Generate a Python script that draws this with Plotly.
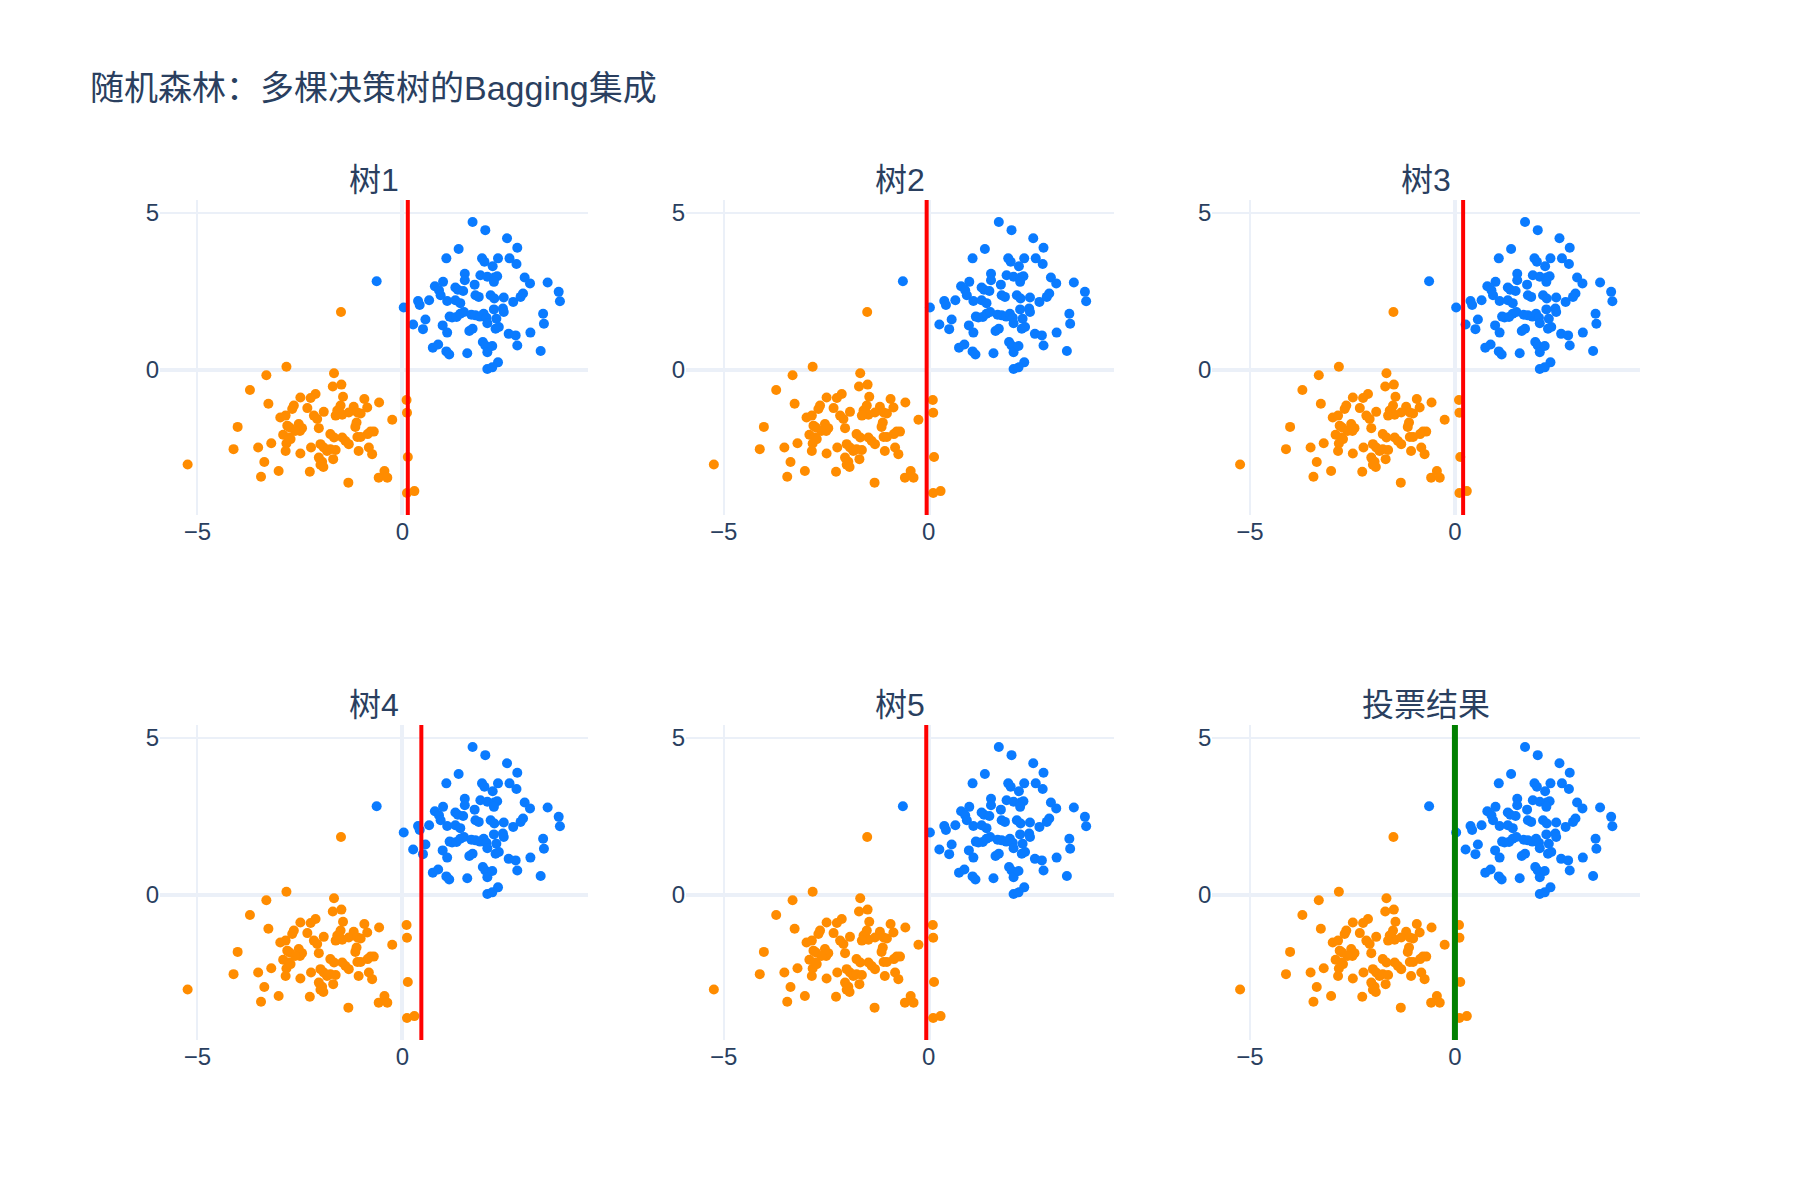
import plotly.graph_objects as go
from plotly.subplots import make_subplots

# ---- data ----
orange_x = [-2.83, -3.32, -3.72, -3.27, -4.02, -4.12, -5.24, -3.52, -3.37, -3.45,
            -3.02, -3.20, -2.98, -2.85, -2.69, -2.65, -2.49, -2.81, -2.75, -2.91,
            -2.77, -2.83, -2.85, -2.53, -2.50, -2.49, -1.50, -1.67, -1.70, -1.49,
            -1.45, -0.93, -0.57, -0.86, -1.19, -1.51, -1.59, -1.47, -1.63, -1.31,
            -1.10, -1.02, -0.25, -1.12, -1.15, -0.78, -0.70, -0.85, -1.10, -1.02,
            -1.47, -1.39, -1.31, -1.76, -1.67, -2.04, -2.08, -1.92, -2.16, -2.32,
            -2.12, -2.24, -2.45, -2.62, -2.73, -2.23, -2.00, -1.92, -1.84, -1.76,
            -1.63, -2.04, -1.96, -2.00, -1.93, -1.69, -2.26, -1.07, -0.82, -0.74,
            -1.32, -0.58, -0.44, -0.37, 0.10, 0.11, 0.13, 0.11, 0.29]
orange_y = [0.09, -0.18, -0.65, -1.09, -1.83, -2.54, -3.03, -2.49, -2.95, -3.42,
            -3.24, -2.35, -1.53, -1.47, -1.26, -1.15, -0.89, -1.79, -1.85, -2.08,
            -2.17, -2.36, -2.60, -1.74, -1.96, -2.68, 1.84, -0.12, -0.54, -0.48,
            -0.87, -0.94, -1.05, -1.21, -1.19, -1.15, -1.31, -1.44, -1.47, -1.37,
            -1.37, -1.40, -1.60, -1.69, -1.83, -1.98, -1.98, -2.06, -2.15, -2.15,
            -2.17, -2.28, -2.38, -2.06, -2.17, -1.87, -1.58, -1.35, -1.47, -1.23,
            -0.78, -0.91, -1.87, -1.96, -2.22, -2.49, -2.38, -2.49, -2.60, -2.54,
            -2.57, -2.81, -2.94, -3.04, -3.11, -2.86, -3.26, -2.60, -2.49, -2.70,
            -3.61, -3.45, -3.24, -3.45, -0.97, -1.38, -2.79, -3.94, -3.88]

blue_x = [-0.63, 0.03, 0.26, 0.50, 0.56, 0.38, 0.42, 0.65, 0.79, 0.89,
          0.93, 0.99, 1.07, 1.37, 1.71, 2.02, 0.74, 0.87, 1.07, 1.14,
          1.58, 0.98, 1.09, 1.15, 1.21, 1.32, 1.41, 1.50, 1.09, 1.29,
          1.41, 1.29, 1.35, 1.48, 1.52, 1.52, 1.76, 1.78, 1.86, 1.90,
          2.07, 1.94, 2.00, 1.68, 1.78, 1.89, 1.63, 1.71, 1.96, 2.02,
          2.07, 2.07, 2.55, 2.80, 2.20, 2.33, 2.61, 2.78, 2.24, 2.31,
          2.23, 2.98, 3.11, 3.54, 3.81, 3.84, 2.15, 2.24, 2.47, 2.70,
          2.88, 2.94, 2.23, 2.45, 2.47, 1.98, 2.05, 2.29, 2.07, 3.43,
          3.45, 2.27, 2.35, 2.59, 2.76, 3.12, 2.80, 2.19, 2.33, 2.19,
          3.37]
blue_y = [2.82, 1.98, 1.44, 1.29, 1.60, 2.19, 2.06, 2.21, 2.66, 2.53,
          2.37, 2.80, 3.55, 3.85, 4.71, 4.45, 0.70, 0.80, 0.58, 0.48,
          0.52, 1.41, 1.18, 1.69, 1.66, 1.68, 1.78, 1.84, 2.19, 2.21,
          2.12, 2.62, 2.55, 2.51, 3.06, 2.85, 2.71, 2.37, 2.32, 3.01,
          2.96, 3.55, 3.44, 1.75, 1.73, 1.69, 1.23, 1.30, 0.88, 0.77,
          0.55, 0.02, 4.19, 3.89, 3.30, 3.55, 3.55, 3.37, 2.94, 2.98,
          2.80, 2.94, 2.75, 2.78, 2.48, 2.18, 2.37, 2.27, 2.30, 2.16,
          2.32, 2.43, 1.92, 1.95, 1.84, 1.78, 1.65, 1.62, 1.48, 1.78,
          1.46, 1.30, 1.36, 1.14, 1.09, 1.18, 0.77, 0.75, 0.23, 0.07,
          0.59]

panel_titles = ["树1", "树2", "树3", "树4", "树5", "投票结果"]
split_x = [0.13, -0.05, 0.20, 0.46, -0.06, 0.0]
split_colors = ["red", "red", "red", "red", "red", "green"]
split_widths = [4, 4, 4, 4, 4, 6]

FONT = "Arial, Liberation Sans, Noto Sans CJK SC, sans-serif"

fig = make_subplots(rows=2, cols=3, subplot_titles=panel_titles,
                    vertical_spacing=0.25)

for i in range(6):
    r, c = i // 3 + 1, i % 3 + 1
    fig.add_trace(go.Scatter(x=orange_x, y=orange_y, mode="markers",
                             marker=dict(color="#FF8C00", size=10),
                             showlegend=False), row=r, col=c)
    fig.add_trace(go.Scatter(x=blue_x, y=blue_y, mode="markers",
                             marker=dict(color="#0A7BFF", size=10),
                             showlegend=False), row=r, col=c)
    fig.add_vline(x=split_x[i], line=dict(color=split_colors[i], width=split_widths[i]),
                  row=r, col=c)

fig.update_xaxes(dtick=5, tick0=0, gridwidth=2, zerolinewidth=4,
                 tickfont=dict(size=24, family=FONT))
fig.update_yaxes(dtick=5, tick0=0, gridwidth=2, zerolinewidth=4,
                 tickfont=dict(size=24, family=FONT))
for a in fig.layout.annotations:
    a.font = dict(size=32, family=FONT, color="#2a3f5f")

fig.update_layout(
    template="plotly_white",
    title=dict(text="随机森林：多棵决策树的Bagging集成", x=0.05,
               font=dict(size=34, family=FONT)),
    font=dict(family=FONT),
    margin=dict(l=160, r=160, t=200, b=160),
    showlegend=False,
)

fig.write_html("out.html")
